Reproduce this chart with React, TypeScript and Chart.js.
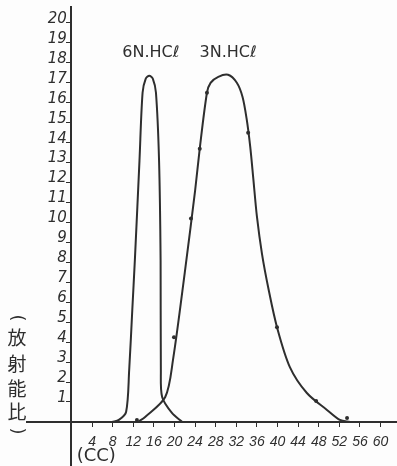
import React, { useEffect, useRef } from "react";
import { Chart, registerables } from "chart.js";

Chart.register(...registerables);

// Tick labels
const X_TICKS = [4, 8, 12, 16, 20, 24, 28, 32, 36, 40, 44, 48, 52, 56, 60];
const Y_TICKS = [1, 2, 3, 4, 5, 6, 7, 8, 9, 10, 11, 12, 13, 14, 15, 16, 17, 18, 19, 20];

// Series labels
const SERIES_LABELS = ["6N.HCℓ", "3N.HCℓ"];
const X_UNIT = "(CC)";
const Y_TITLE_CHARS = ["(", "放", "射", "能", "比", ")"];

// 6N.HCl elution curve (volume cc, activity ratio)
const HCL6_X = [7.9, 9.2, 10.6, 11.2, 11.8, 12.3, 13.2, 13.8, 14.4, 15.1, 15.8, 16.4, 17.0, 17.3, 17.35, 17.6, 19.5, 21.5];
const HCL6_Y = [0, 0.1, 0.5, 2.6, 5.6, 8.1, 13.1, 16.5, 17.2, 17.35, 17.2, 16.5, 13.1, 8.1, 2.6, 1.25, 0.45, 0];

// 3N.HCl elution curve (smoothed)
const HCL3_X = [12.9, 14.3, 18.2, 19.7, 22.0, 24.0, 24.9, 26.3, 27.0, 28.5, 30.4, 32.1, 33.2, 34.0, 34.7, 35.3, 36.0, 37.0, 38.3, 39.9, 42.4, 45.7, 49.6, 52.1, 54.1];
const HCL3_Y = [0, 0.25, 1.25, 3.1, 7.5, 11.6, 13.7, 16.5, 17.0, 17.3, 17.4, 17.0, 16.3, 15.2, 13.8, 12.2, 10.3, 8.4, 6.6, 4.75, 2.75, 1.45, 0.6, 0.1, 0];

// 3N.HCl measured points
const PTS3_X = [12.7, 19.9, 23.2, 24.9, 26.3, 34.3, 39.9, 47.5, 53.5];
const PTS3_Y = [0.1, 4.25, 10.2, 13.7, 16.5, 14.5, 4.75, 1.05, 0.2];

const toPts = (xs: number[], ys: number[]) => xs.map((x, i) => ({ x, y: ys[i] }));

const INK = "#2e2e2e";

const annotations = {
  id: "annotations",
  afterDraw(chart: any) {
    const { ctx, scales } = chart;
    const x = scales.x;
    const y = scales.y;
    ctx.save();
    ctx.fillStyle = INK;
    ctx.textAlign = "center";
    ctx.textBaseline = "middle";
    ctx.font = '16px "DejaVu Sans"';
    ctx.fillText(SERIES_LABELS[0], x.getPixelForValue(15.4), y.getPixelForValue(18.5));
    ctx.fillText(SERIES_LABELS[1], x.getPixelForValue(30.4), y.getPixelForValue(18.5));
    ctx.font = '18px "DejaVu Sans"';
    ctx.fillText(X_UNIT, x.getPixelForValue(4.8), y.getPixelForValue(-1.72));
    const ys = [318, 338, 364, 389, 412, 431];
    Y_TITLE_CHARS.forEach((c, i) => {
      if (c === "(" || c === ")") {
        ctx.save();
        ctx.translate(17, ys[i]);
        ctx.rotate(Math.PI / 2);
        ctx.font = '18px "DejaVu Sans"';
        ctx.fillText(c, 0, 0);
        ctx.restore();
      } else {
        ctx.font = '19px "Noto Sans CJK JP"';
        ctx.fillText(c, 17, ys[i]);
      }
    });
    ctx.restore();
  },
};

export default function App() {
  const ref = useRef<HTMLCanvasElement | null>(null);
  useEffect(() => {
    if (!ref.current) return;
    const chart = new Chart(ref.current, {
      type: "scatter",
      data: {
        datasets: [
          {
            data: toPts(HCL6_X, HCL6_Y),
            showLine: true,
            pointRadius: 0,
            pointHoverRadius: 0,
            borderColor: INK,
            borderWidth: 2,
            tension: 0.3,
          },
          {
            data: toPts(HCL3_X, HCL3_Y),
            showLine: true,
            pointRadius: 0,
            pointHoverRadius: 0,
            borderColor: INK,
            borderWidth: 2,
            tension: 0.3,
          },
          {
            data: toPts(PTS3_X, PTS3_Y),
            showLine: false,
            pointRadius: 2,
            backgroundColor: INK,
            borderColor: INK,
            borderWidth: 0,
          },
        ],
      },
      options: {
        animation: false,
        responsive: false,
        layout: { autoPadding: false, padding: { left: 27, top: 7, right: 0, bottom: 0 } },
        plugins: { legend: { display: false }, tooltip: { enabled: false } },
        scales: {
          x: {
            type: "linear",
            min: -8.64,
            max: 63.2,
            position: { y: 0 },
            afterFit: (s: any) => {
              s.height = 0;
              s.paddingLeft = 0;
              s.paddingRight = 0;
              s.paddingTop = 0;
              s.paddingBottom = 0;
            },
            afterBuildTicks: (s: any) => {
              s.ticks = X_TICKS.map((v) => ({ value: v }));
            },
            ticks: {
              autoSkip: false,
              maxRotation: 0,
              minRotation: 0,
              padding: 8,
              color: INK,
              font: { family: "Liberation Sans", size: 14, style: "italic" },
            },
            grid: { display: true, drawOnChartArea: false, drawTicks: true, tickLength: 4, color: INK, lineWidth: 1 },
            border: { display: true, color: INK, width: 2 },
          },
          y: {
            type: "linear",
            min: -2.21,
            max: 20.8,
            position: { x: 0 },
            afterFit: (s: any) => {
              s.width = 0;
              s.paddingLeft = 0;
              s.paddingRight = 0;
              s.paddingTop = 0;
              s.paddingBottom = 0;
            },
            afterBuildTicks: (s: any) => {
              s.ticks = Y_TICKS.map((v) => ({ value: v }));
            },
            ticks: {
              autoSkip: false,
              padding: 0,
              labelOffset: -4,
              color: INK,
              font: { family: "DejaVu Sans", size: 15, style: "italic" },
              callback: (v: any) => `${v} `,
            },
            grid: { display: true, drawOnChartArea: false, drawTicks: true, tickLength: 4, color: INK, lineWidth: 1 },
            border: { display: true, color: INK, width: 2 },
          },
        },
      } as any,
      plugins: [annotations],
    });
    return () => chart.destroy();
  }, []);
  return (
    <div style={{ position: "fixed", left: 0, top: 0, width: 397, height: 466, background: "#fdfdfd" }}>
      <canvas ref={ref} width={397} height={466} />
    </div>
  );
}
